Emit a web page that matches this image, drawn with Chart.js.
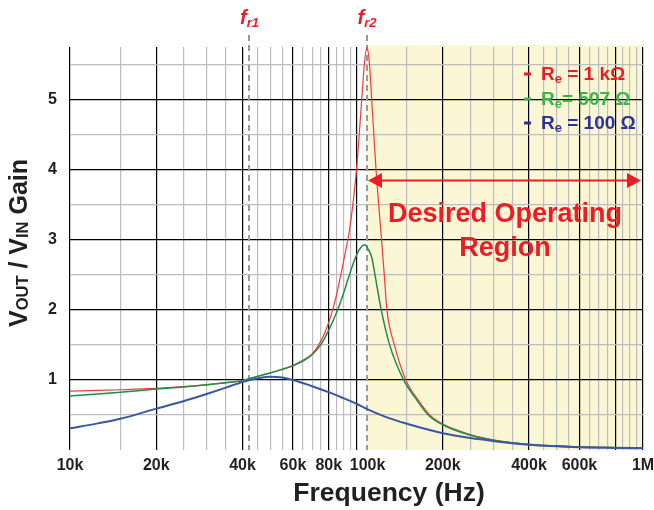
<!DOCTYPE html>
<html>
<head>
<meta charset="utf-8">
<script src="https://cdn.jsdelivr.net/npm/chart.js@4"></script>
<style>
  body { margin: 0; background: #fff; }
  canvas { display: block; }
</style>
</head>
<body>
<canvas id="gainChart" width="654" height="510"></canvas>
<script>
// frequencies in kHz, gain
const redFreq  = [10,12.5,15,20,25,30,35,40,45,50,55,60,65,70,75,80,85,90,95,100,104.3,106.5,108.8,111,113,117,122,125,127.7,135.6,148.6,165,180,200,250,300,400,500,600,800,1000]
const redGain  = [0.84,0.85,0.86,0.88,0.905,0.93,0.96,0.99,1.05,1.10,1.15,1.21,1.28,1.37,1.55,1.82,2.20,2.68,3.2,4.0,5.0,5.5,5.75,5.5,5.0,4.0,3.05,2.5,2.0,1.5,1.0,0.70,0.50,0.37,0.22,0.145,0.08,0.058,0.045,0.035,0.03]

const greenFreq = [10,12.5,15,20,25,30,35,40,45,50,55,60,65,70,75,80,85,90,95,100,104,107,110,113,116,122,130.5,146,160,178,200,250,300,400,500,600,800,1000]
const greenGain = [0.77,0.80,0.825,0.87,0.90,0.93,0.96,0.99,1.05,1.10,1.15,1.20,1.27,1.36,1.50,1.71,1.95,2.23,2.53,2.78,2.9,2.93,2.86,2.75,2.5,2.0,1.5,1.0,0.75,0.5,0.36,0.21,0.14,0.078,0.056,0.044,0.034,0.03]

const blueFreq = [10,12.5,15,20,25,30,35,40,45,50,55,60,70,80,90,100,108,125,150,200,250,300,400,600,800,1000]
const blueGain = [0.31,0.38,0.445,0.59,0.70,0.80,0.89,0.97,1.02,1.045,1.035,1.0,0.91,0.825,0.74,0.66,0.59,0.48,0.374,0.24,0.17,0.128,0.075,0.04,0.03,0.025]

// 100k label sits a little right of its grid line in the original
const xLabels = {10:'10k',20:'20k',40:'40k',60:'60k',80:'80k',100:'     100k',200:'200k',400:'400k',600:'600k',1000:'1M'}
const xMajor = [10,20,40,60,80,100,200,400,600,800,1000]
const yLabels = [1,2,3,4,5]

const fr1 = 42.3
const fr2 = 108.8
const regionStart = 108.8

const FONT = "'Liberation Sans', Arial, sans-serif"
const RED = '#ED1C24'

function pts(xs, ys){ return xs.map((x,i)=>({x:x, y:ys[i]})) }

function runs(ctx, x, y, parts){
  let cx = x
  parts.forEach(p=>{
    ctx.font = p[2] + ' ' + p[1] + 'px ' + FONT
    ctx.fillText(p[0], cx, y + (p[3]||0))
    cx += ctx.measureText(p[0]).width
  })
  return cx - x
}
function runsWidth(ctx, parts){
  let w = 0
  parts.forEach(p=>{ ctx.font = p[2] + ' ' + p[1] + 'px ' + FONT; w += ctx.measureText(p[0]).width })
  return w
}

const decor = {
  id:'decor',
  beforeDraw(chart){
    const ctx = chart.ctx, a = chart.chartArea, xs = chart.scales.x
    ctx.save()
    ctx.fillStyle = '#fff'
    ctx.fillRect(0,0,chart.width,chart.height)
    const x0 = xs.getPixelForValue(regionStart)
    ctx.fillStyle = '#FBF7D4'
    ctx.fillRect(x0, a.top-2, a.right-x0, a.bottom-a.top+2)
    ctx.restore()
  },
  beforeDatasetsDraw(chart){
    const ctx = chart.ctx, a = chart.chartArea, xs = chart.scales.x
    ctx.save()
    ctx.strokeStyle = '#9A9A9A'
    ctx.lineWidth = 2
    ctx.setLineDash([6,4])
    ;[fr1, fr2].forEach(f=>{
      const px = Math.round(xs.getPixelForValue(f))
      ctx.beginPath(); ctx.moveTo(px, 35); ctx.lineTo(px, a.bottom); ctx.stroke()
    })
    ctx.restore()
  },
  afterDraw(chart){
    const ctx = chart.ctx, a = chart.chartArea, xs = chart.scales.x
    ctx.save()
    ctx.textBaseline = 'alphabetic'
    ctx.textAlign = 'left'

    // f_r labels
    ctx.fillStyle = RED
    ;[[fr1,'r1'],[fr2,'r2']].forEach(f=>{
      const px = xs.getPixelForValue(f[0])
      const parts = [['f',20,'italic bold'],[f[1],13,'italic bold',3]]
      runs(ctx, px - runsWidth(ctx,parts)/2, 24, parts)
    })

    // legend
    const leg = [
      ['#ED1C24', ' = 1 kΩ', 80],
      ['#39B54A', '= 507 Ω', 105],
      ['#2E3192', ' = 100 Ω', 129]
    ]
    leg.forEach(l=>{
      ctx.fillStyle = l[0]
      ctx.fillRect(524, l[2]-7.5, 7, 3)
      runs(ctx, 541, l[2], [['R',19,'bold'],['e',13,'bold',3],[l[1],19,'bold']])
    })

    // arrow
    const ax0 = xs.getPixelForValue(regionStart) + 1, ax1 = a.right - 2, ay = 180.5
    ctx.strokeStyle = RED; ctx.fillStyle = RED; ctx.lineWidth = 2.2
    ctx.beginPath(); ctx.moveTo(ax0+10, ay); ctx.lineTo(ax1-10, ay); ctx.stroke()
    ctx.beginPath(); ctx.moveTo(ax0, ay); ctx.lineTo(ax0+14, ay-7.5); ctx.lineTo(ax0+14, ay+7.5); ctx.closePath(); ctx.fill()
    ctx.beginPath(); ctx.moveTo(ax1, ay); ctx.lineTo(ax1-14, ay-7.5); ctx.lineTo(ax1-14, ay+7.5); ctx.closePath(); ctx.fill()

    ctx.textAlign = 'center'
    ctx.font = 'bold 27px ' + FONT
    ctx.fillText('Desired Operating', 505, 222)
    ctx.fillText('Region', 505, 256)

    // axis titles
    ctx.fillStyle = '#231F20'
    ctx.font = 'bold 26.5px ' + FONT
    ctx.fillText('Frequency (Hz)', 389, 501)

    ctx.textAlign = 'left'
    const yt = [['V',25,'bold'],['OUT',16.5,'bold',1],[' / V',25,'bold'],['IN',16.5,'bold',1],[' Gain',25,'bold']]
    ctx.translate(27, 243)
    ctx.rotate(-Math.PI/2)
    runs(ctx, -runsWidth(ctx,yt)/2, 0, yt)
    ctx.restore()
  }
}

const gridX = []
for (let v = 10; v <= 100; v += 5) gridX.push(v)
for (let v = 150; v <= 1000; v += 50) gridX.push(v)
const gridY = []
for (let v = 0; v <= 5.5; v += 0.5) gridY.push(v)

const lineStyle = {fill:false, pointRadius:0, cubicInterpolationMode:'monotone'}

const gainChart = new Chart(document.getElementById('gainChart'), {
  type:'line',
  data:{
    datasets:[
      Object.assign({label:'Re = 100 Ω', data:pts(blueFreq, blueGain), borderColor:'#3A57A7', borderWidth:2}, lineStyle),
      Object.assign({label:'Re = 507 Ω', data:pts(greenFreq, greenGain), borderColor:'#1F8E47', borderWidth:1.5}, lineStyle),
      Object.assign({label:'Re = 1 kΩ', data:pts(redFreq, redGain), borderColor:'#F03A3A', borderWidth:1.2}, lineStyle)
    ]
  },
  options:{
    responsive:false,
    animation:false,
    layout:{padding:{top:47, right:11, left:0, bottom:0}},
    plugins:{legend:{display:false}, tooltip:{enabled:false}},
    scales:{
      x:{
        type:'logarithmic', min:10, max:1000,
        afterBuildTicks:s=>{ s.ticks = gridX.map(v=>({value:v})) },
        afterFit:s=>{ s.height = 60; s.paddingLeft = 0; s.paddingRight = 0 },
        border:{display:false},
        grid:{
          drawTicks:false, lineWidth:1.2,
          color:c=> xMajor.includes(c.tick.value) ? '#000' : '#BDBDBD'
        },
        ticks:{
          autoSkip:false, maxRotation:0, padding:6,
          color:'#231F20', font:{family:FONT, size:16, weight:'bold'},
          callback:v=> xLabels[v] || ''
        }
      },
      y:{
        min:0, max:5.75,
        afterBuildTicks:s=>{ s.ticks = gridY.map(v=>({value:v})) },
        afterFit:s=>{ s.width = 70; s.paddingTop = 0; s.paddingBottom = 0 },
        border:{display:false},
        grid:{
          drawTicks:false, lineWidth:1.2,
          color:c=> c.tick.value === 0 ? 'rgba(0,0,0,0)' : (c.tick.value % 1 === 0 ? '#000' : '#BDBDBD')
        },
        ticks:{
          padding:13,
          color:'#231F20', font:{family:FONT, size:16, weight:'bold'},
          callback:v=> yLabels.includes(v) ? String(v) : ''
        }
      }
    }
  },
  plugins:[decor]
})
</script>
</body>
</html>
